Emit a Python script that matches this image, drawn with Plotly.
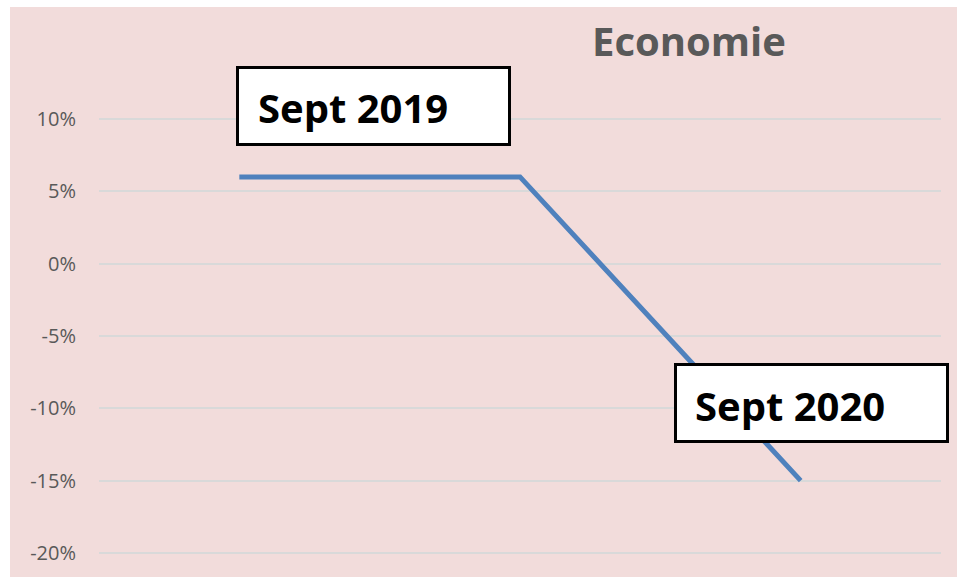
import plotly.graph_objects as go

# Data
periods = ["Sept 2019", "Mars 2020", "Sept 2020"]
values = [6, 6, -15]
y_ticks = [-20, -15, -10, -5, 0, 5, 10]
y_tick_labels = ["-20%", "-15%", "-10%", "-5%", "0%", "5%", "10%"]
title_text = "Economie"
label_start = "Sept 2019"
label_end = "Sept 2020"

W, H = 957, 577
L, R, T, B = 99, 16, 117, 22
PW = W - L - R
PH = H - T - B
Y_RANGE = [-20.14, 10.14]

def px(x):
    return (x - L) / PW

def py(y):
    return (H - B - y) / PH

PINK = "#F2DCDB"
FONT = "Open Sans"

fig = go.Figure()
fig.add_trace(go.Scatter(
    x=periods, y=values, mode="lines",
    line=dict(color="#4F81BD", width=5),
    hoverinfo="skip", showlegend=False,
))

shapes = [
    dict(type="rect", xref="paper", yref="paper", layer="below",
         x0=px(10), x1=px(W + 5), y0=py(H + 5), y1=py(7),
         fillcolor=PINK, line=dict(width=0)),
    dict(type="rect", xref="paper", yref="paper", layer="above",
         x0=px(237.5), x1=px(509.5), y0=py(144.5), y1=py(67.5),
         fillcolor="white", line=dict(color="black", width=3)),
    dict(type="rect", xref="paper", yref="paper", layer="above",
         x0=px(675.5), x1=px(947.5), y0=py(441.5), y1=py(364.5),
         fillcolor="white", line=dict(color="black", width=3)),
]

annotations = [
    dict(text=f"<b>{title_text}</b>", xref="paper", yref="paper",
         x=px(689), y=py(41), xanchor="center", yanchor="middle",
         showarrow=False, font=dict(family=FONT, size=40, color="#595959")),
    dict(text=f"<b>{label_start}</b>", xref="paper", yref="paper",
         x=px(256), y=py(108), xanchor="left", yanchor="middle",
         showarrow=False, font=dict(family=FONT, size=40, color="black")),
    dict(text=f"<b>{label_end}</b>", xref="paper", yref="paper",
         x=px(693), y=py(405), xanchor="left", yanchor="middle",
         showarrow=False, font=dict(family=FONT, size=40, color="black")),
]

fig.update_layout(
    width=W, height=H,
    margin=dict(l=L, r=R, t=T, b=B, pad=0),
    paper_bgcolor="white",
    plot_bgcolor="rgba(0,0,0,0)",
    shapes=shapes,
    annotations=annotations,
    showlegend=False,
    xaxis=dict(visible=False, range=[-0.5, 2.5], fixedrange=True),
    yaxis=dict(
        range=Y_RANGE, tickvals=y_ticks, ticktext=y_tick_labels,
        showgrid=True, gridcolor="#D9D9D9", gridwidth=1.5,
        zeroline=False, showline=False, ticks="",
        ticklabelstandoff=22,
        tickfont=dict(family=FONT, size=20, color="#595959"),
        fixedrange=True,
    ),
)

fig.write_html(
    "out.html",
    config={"displayModeBar": False},
    post_script="document.body.style.margin='0';document.body.style.overflow='hidden';",
)
